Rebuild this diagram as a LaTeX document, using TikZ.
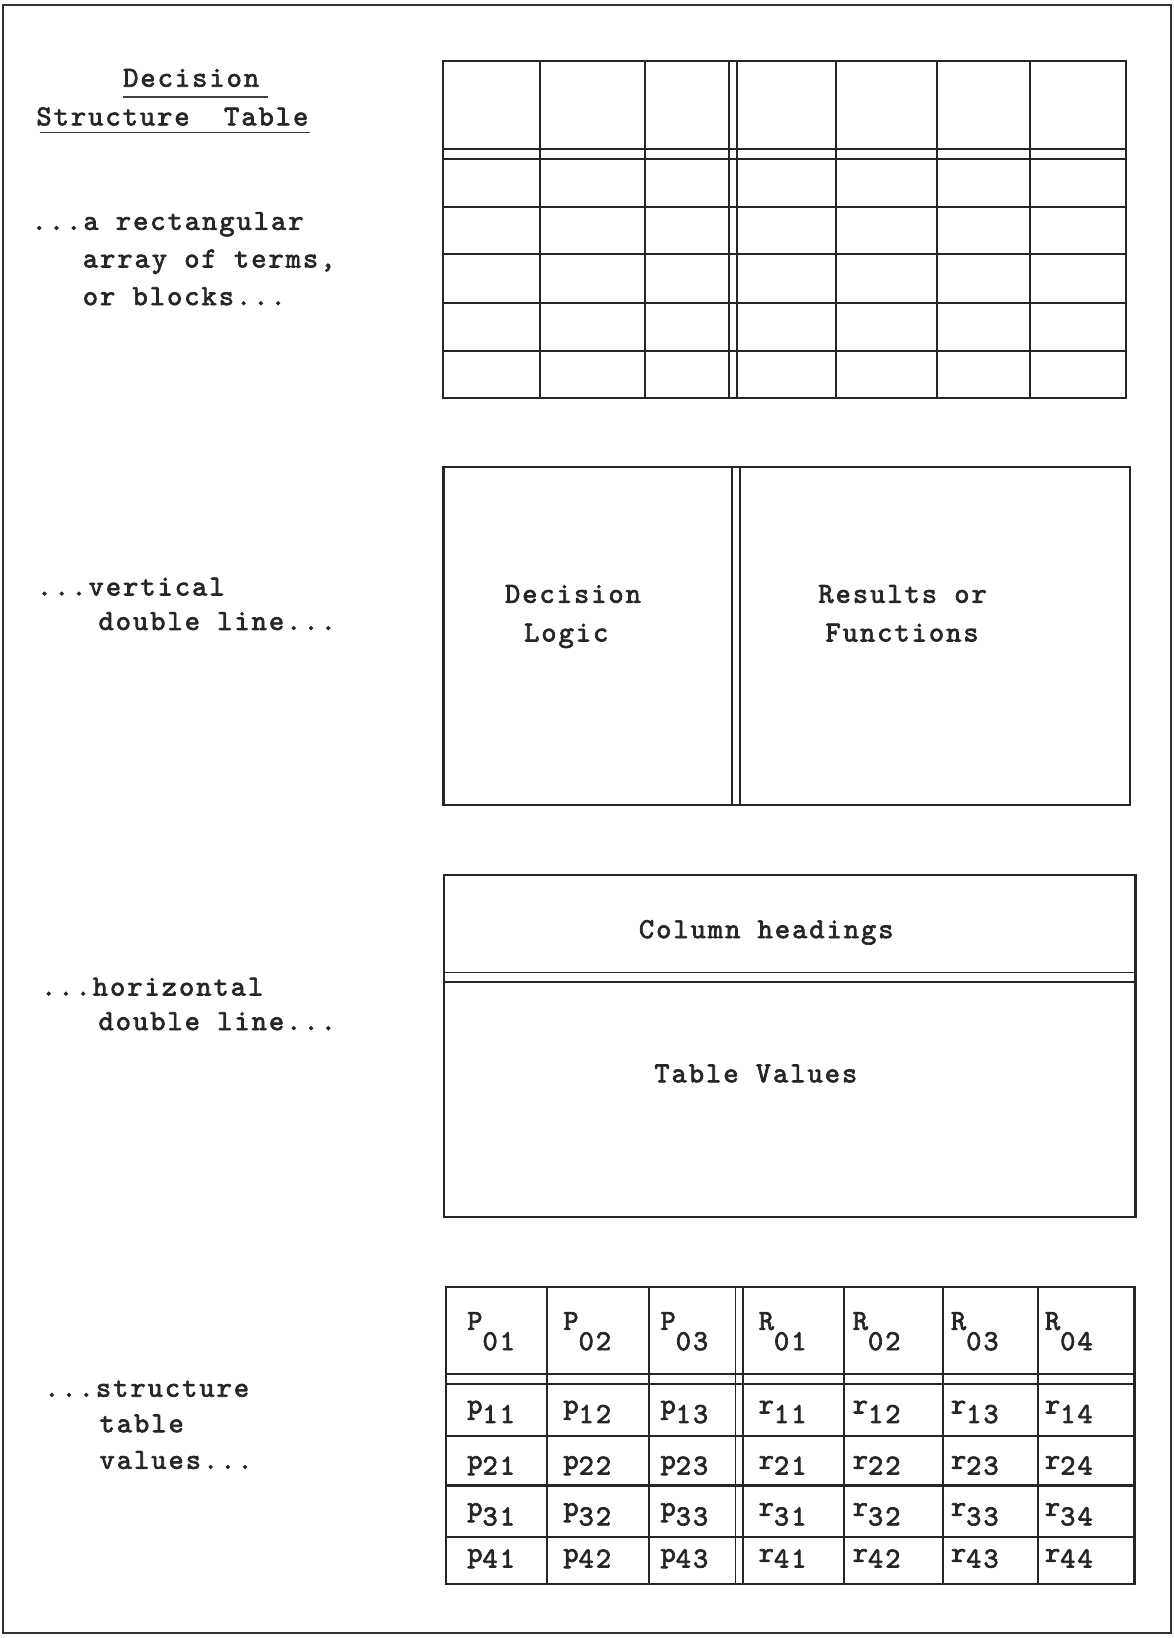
\documentclass[tikz,border=0pt]{standalone}
\usepackage{fontspec}
\newfontfamily\tw{lmmono10-regular}[Extension=.otf, LetterSpace=7, FakeBold=2.4]
\usepackage{tikz}

\newcommand{\hdsub}[1]{\raisebox{-0.7em}{#1}}
\newcommand{\bdsub}[2]{\raisebox{-#1em}{#2}}

\begin{document}
\begin{tikzpicture}[x=0.0209cm, y=-0.0209cm,
  font=\tw\fontsize{16.5}{20}\selectfont,
  ink/.style={black!85},
  lbl/.style={ink, anchor=base west, inner sep=0pt},
  ctr/.style={ink, anchor=base, inner sep=0pt},
  cell/.style={ink, anchor=base west, inner sep=0pt},
  tbl/.style={draw=black!85, line width=1.2pt},
  dbl/.style={draw=black!85, line width=1pt},
  frm/.style={draw=black!80, line width=1.3pt}]
\useasboundingbox (0,0) rectangle (1123,1568);
\draw[frm] (3,5) rectangle (1121,1563);

% left column
\node[ctr] (hd1) at (183,83) {Decision};
\node[ctr] (hd2) at (165,120) {Structure~~Table};
\draw[black!75, line width=0.9pt] (118,93) -- (257,93);
\draw[black!75, line width=0.9pt] (38,127) -- (297,127);
\node[lbl] (a1) at (30,220) {...a rectangular};
\node[lbl] (a2) at (79,256) {array of terms,};
\node[lbl] (a3) at (79,292) {or blocks...};
\node[lbl] (v1) at (35,570) {...vertical};
\node[lbl] (v2) at (94,603) {double line...};
\node[lbl] (h1) at (39,953) {...horizontal};
\node[lbl] (h2) at (94,986) {double line...};
\node[lbl] (s1) at (42,1337) {...structure};
\node[lbl] (s2) at (95,1371) {table};
\node[lbl] (s3) at (95,1406) {values...};

% rectangular array
\draw[tbl] (424,58) rectangle (1078,381);
\foreach \x in {517,617.5,800,897,986}
  \draw[tbl] (\x,58) -- (\x,381);
\draw[dbl] (698,58) -- (698,381);
\draw[dbl] (705.6,58) -- (705.6,381);
\draw[dbl] (424,142.6) -- (1078,142.6);
\draw[dbl] (424,152) -- (1078,152);
\foreach \y in {198,243,290,336}
  \draw[tbl] (424,\y) -- (1078,\y);

% vertical double line
\draw[tbl] (424.5,447) rectangle (1082,771);
\draw[dbl] (701,447) -- (701,771);
\draw[dbl] (708.5,447) -- (708.5,771);
\node[ctr] (dl1) at (548.5,577) {Decision};
\node[ctr] (dl2) at (542,614) {Logic};
\node[ctr] (rf1) at (864,577) {Results or};
\node[ctr] (rf2) at (863.5,614) {Functions};

% horizontal double line
\draw[tbl] (425,838) rectangle (1087,1165);
\draw[dbl] (425,931) -- (1087,931);
\draw[dbl] (425,940) -- (1087,940);
\node[ctr] (ch) at (733.5,898) {Column headings};
\node[ctr] (tv) at (723.5,1036) {Table Values};

% structure table values
\draw[tbl] (427,1232) rectangle (1086,1516);
\foreach \x in {524,621,808,903,994}
  \draw[tbl] (\x,1232) -- (\x,1516);
\draw[dbl] (704,1232) -- (704,1516);
\draw[dbl] (711,1232) -- (711,1516);
\draw[dbl] (427,1315) -- (1086,1315);
\draw[dbl] (427,1325) -- (1086,1325);
\foreach \y in {1375,1422,1471}
  \draw[tbl] (427,\y) -- (1086,\y);
\foreach \c/\x in {1/447,2/539,3/632} {
  \node[cell] (pc\c) at (\x,1273) {P\hdsub{0\c}};
  \foreach \r/\y/\d in {1/1353/0.33,2/1406/0.2,3/1451/0.33,4/1495/0.2}
    \node[cell] (p\r\c) at (\x,\y) {p\bdsub{\d}{\r\c}};
}
\foreach \c/\x in {1/726,2/816,3/910,4/1000} {
  \node[cell] (rc\c) at (\x,1273) {R\hdsub{0\c}};
  \foreach \r/\y/\d in {1/1353/0.33,2/1406/0.2,3/1451/0.33,4/1495/0.2}
    \node[cell] (r\r\c) at (\x,\y) {r\bdsub{\d}{\r\c}};
}
\end{tikzpicture}
\end{document}
